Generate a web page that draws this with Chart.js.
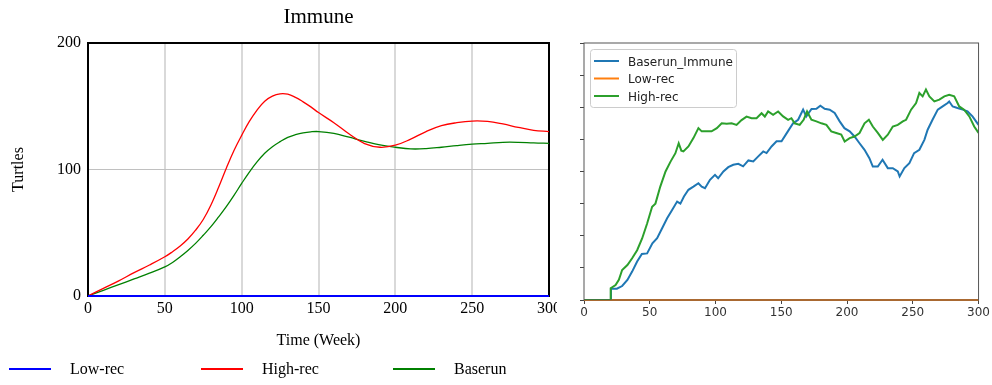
<!DOCTYPE html>
<html>
<head>
<meta charset="utf-8">
<title>Immune</title>
<script src="https://cdn.jsdelivr.net/npm/chart.js@4.4.1/dist/chart.umd.min.js"></script>
<style>
  body { margin: 0; background: #fff; }
  #leftWrap { position: absolute; left: 0; top: 0; width: 557px; height: 385px; overflow: hidden; }
  #rightChart { position: absolute; left: 570px; top: 0; filter: blur(0.5px); }
</style>
</head>
<body>
<div id="leftWrap"><canvas id="leftChart" width="600" height="385"></canvas></div>
<canvas id="rightChart" width="422" height="330"></canvas>
<script>
// Simulation runs (smooth model output), weeks 0-300
const weeks = [0, 10, 20, 30, 40, 50, 55, 60, 65, 70, 75, 80, 85, 90, 95, 100, 105, 110, 115, 120, 125, 130, 135, 140, 145, 150, 160, 170, 180, 190, 200, 210, 220, 230, 240, 250, 260, 270, 280, 290, 300];
const lowRec = [0, 0, 0, 0, 0, 0, 0, 0, 0, 0, 0, 0, 0, 0, 0, 0, 0, 0, 0, 0, 0, 0, 0, 0, 0, 0, 0, 0, 0, 0, 0, 0, 0, 0, 0, 0, 0, 0, 0, 0, 0];
const highRec = [0, 6, 12, 18.5, 24.5, 31, 35, 39.5, 45, 52, 60.5, 72, 86, 101, 115, 127, 138, 147, 154, 158, 159.8, 159.5, 157, 153.5, 149.5, 145, 137, 128, 120.5, 117.6, 119.2, 124, 130, 134.6, 137, 138.3, 138, 136, 133.3, 131, 130];
const baserun = [0, 4.5, 9, 13.5, 18, 23, 26.5, 31, 36, 41.6, 48, 54.8, 62.5, 70.6, 79.5, 89, 98, 106, 112.8, 118, 122, 125.4, 127.5, 129, 129.8, 130, 128.6, 125.5, 122.3, 119.4, 117.6, 116.3, 116.5, 117.6, 118.9, 120, 120.7, 121.5, 121.5, 121, 120.7];
const leftYTicks = [0, 100, 200];
const leftXTicks = [0, 50, 100, 150, 200, 250, 300];

// Agent-based runs (noisy), weeks 0-300
const baseWeeks = [0, 20, 20.5, 25, 29, 33, 36.6, 40.4, 44, 48, 52, 55.6, 59.4, 63.2, 67, 70.8, 73.3, 76, 79.4, 83.2, 87, 89.5, 92, 95.8, 99.6, 102, 106, 109.7, 113.5, 117.3, 121, 125, 128.7, 132.5, 136.3, 138.8, 142.6, 146.4, 150.2, 155, 159, 162.8, 166.6, 169, 173, 176.7, 179.7, 183, 186.8, 190.6, 194.4, 198, 202, 205.7, 209.5, 213.3, 217, 219.6, 223.4, 227, 231, 234.8, 238.6, 240, 243.6, 247.4, 251, 255, 258.8, 261.3, 265, 269, 272.7, 276.5, 277.7, 280.3, 284, 288, 291.6, 295.4, 300];
const baseImmune = [0, 0, 7, 7, 8.7, 12.5, 17.7, 24, 28.7, 29, 35.3, 38.5, 44.7, 50.9, 56, 61.3, 60, 64.4, 68.6, 70.6, 72.7, 70.6, 69.6, 74.8, 77.9, 75.8, 80, 82.7, 84.2, 84.8, 83.2, 86.9, 86.3, 89.4, 92.5, 91.5, 95.6, 98.8, 98.8, 105, 110, 112.2, 118.5, 114.3, 118.9, 119, 121, 119, 118.5, 116.4, 111.2, 107, 105, 101.8, 97.6, 93.5, 88.3, 83.1, 83.1, 87.3, 82.1, 82.1, 80, 76.9, 82.1, 85.2, 91.4, 93.5, 99.7, 106, 112.2, 118.5, 120.5, 122.6, 123.6, 120.5, 119.5, 118.5, 117.4, 114.3, 109];
const lowWeeks = [0, 300];
const lowImmune = [0, 0];
const highWeeks = [0, 20, 20.3, 24, 26.5, 29, 33, 36.6, 40.4, 44.2, 48, 51.8, 54.3, 58, 62, 65.7, 69.5, 72, 74, 75.6, 79.4, 83.2, 87, 89.5, 93.3, 97, 101, 104.7, 108.5, 112.2, 116, 119.8, 123.6, 127.4, 131.2, 135, 137.5, 140, 143.8, 147.6, 151.4, 155.2, 157.7, 160.2, 164, 167, 169.6, 172.9, 176.7, 180.5, 184.3, 188, 191.8, 195.6, 198.2, 202, 205.7, 209.5, 213.3, 216.6, 219.6, 223.4, 227.2, 231, 234.8, 238.6, 242.4, 244.9, 248.7, 252.5, 255, 257.5, 260, 262.6, 266.4, 270.2, 274, 277.7, 281.5, 285.3, 289, 293, 296.7, 300];
const highImmune = [0, 0, 7.3, 9.3, 12.6, 18.7, 21.8, 26, 31, 38.3, 47.6, 58, 60, 70.6, 80, 86, 91.4, 97.6, 93, 92.5, 95.6, 100.8, 107, 105, 105, 105, 107, 110, 109.7, 110, 109, 112, 114.2, 113.2, 113.2, 116.3, 114.2, 117.4, 115.3, 117.4, 114.3, 112.2, 113.2, 110, 109, 112.2, 117.4, 112.2, 111.2, 110, 109, 105, 104, 103, 98.7, 100.8, 101.8, 104, 110, 112.2, 108, 104, 99.7, 102.9, 108, 109, 111.2, 112.2, 118.5, 122.6, 128.9, 126.8, 131, 126.8, 123.6, 124.7, 126.8, 127.8, 126.8, 120.5, 118.5, 114.3, 108, 104];
const rightXTicks = [0, 50, 100, 150, 200, 250, 300];

function toPoints(xs, ys) {
    return xs.map((x, i) => ({ x: x, y: ys[i] }));
}

// Box around the plot area
function makeFrame(cfg) {
    function draw(chart) {
        const a = chart.chartArea;
        const ctx = chart.ctx;
        ctx.save();
        ctx.strokeStyle = cfg.color;
        ctx.lineWidth = cfg.width;
        ctx.strokeRect(a.left, a.top, a.right - a.left, a.bottom - a.top);
        ctx.restore();
    }
    return {
        id: 'plotFrame',
        beforeDatasetsDraw(chart) { if (cfg.under) draw(chart); },
        afterDatasetsDraw(chart) { if (!cfg.under) draw(chart); }
    };
}

// Line-sample legend, one slot per dataset
function makeLegend(cfg) {
    return {
        id: 'lineLegend',
        afterDraw(chart) {
            const ctx = chart.ctx;
            ctx.save();
            if (cfg.box) {
                const b = cfg.box;
                ctx.beginPath();
                ctx.roundRect(b.x, b.y, b.w, b.h, 3);
                ctx.fillStyle = 'rgba(255,255,255,0.85)';
                ctx.fill();
                ctx.strokeStyle = '#cccccc';
                ctx.lineWidth = 1;
                ctx.stroke();
            }
            ctx.font = cfg.font;
            ctx.textBaseline = 'alphabetic';
            chart.data.datasets.forEach((ds, i) => {
                const s = cfg.slots[i];
                ctx.strokeStyle = ds.borderColor;
                ctx.lineWidth = cfg.lineWidth;
                ctx.beginPath();
                ctx.moveTo(s.x, s.y);
                ctx.lineTo(s.x + cfg.lineLength, s.y);
                ctx.stroke();
                ctx.fillStyle = cfg.color;
                ctx.fillText(ds.label, s.tx, s.y + cfg.baseShift);
            });
            ctx.restore();
        }
    };
}

function renderLeftChart() {
    const ctx = document.getElementById('leftChart');
    const serif = "'Liberation Serif', 'Times New Roman', serif";
    new Chart(ctx, {
        type: 'line',
        data: {
            datasets: [
                { label: 'Low-rec', data: toPoints(weeks, lowRec), borderColor: '#0000ff', borderWidth: 2, clip: false },
                { label: 'High-rec', data: toPoints(weeks, highRec), borderColor: '#ff0000', borderWidth: 1.3 },
                { label: 'Baserun', data: toPoints(weeks, baserun), borderColor: '#008000', borderWidth: 1.3 }
            ]
        },
        options: {
            responsive: false,
            animation: false,
            events: [],
            layout: { padding: { top: 0, right: 51, bottom: 30, left: 0 } },
            elements: {
                point: { radius: 0 },
                line: { tension: 0.4 }
            },
            scales: {
                x: {
                    type: 'linear',
                    min: 0,
                    max: 300,
                    afterBuildTicks: s => { s.ticks = leftXTicks.map(v => ({ value: v })); },
                    afterFit: s => { s.height = 59; },
                    ticks: { color: '#000', font: { family: serif, size: 16 }, padding: 3, maxRotation: 0 },
                    grid: { color: '#d9d9d9', lineWidth: 2, drawTicks: false },
                    border: { display: false },
                    title: { display: true, text: 'Time (Week)', color: '#000', font: { family: serif, size: 16 }, padding: { top: 0, bottom: 5 } }
                },
                y: {
                    min: 0,
                    max: 200,
                    afterBuildTicks: s => { s.ticks = leftYTicks.map(v => ({ value: v })); },
                    afterFit: s => { s.width = 88; },
                    ticks: { color: '#000', font: { family: serif, size: 16 }, padding: 7 },
                    grid: { color: '#c0c0c0', lineWidth: 1, drawTicks: false },
                    border: { display: false },
                    title: { display: true, text: 'Turtles', color: '#000', font: { family: serif, size: 16 }, padding: { top: 9, bottom: 0 } }
                }
            },
            plugins: {
                legend: { display: false },
                tooltip: { enabled: false },
                title: {
                    display: true,
                    text: 'Immune',
                    fullSize: false,
                    color: '#000',
                    font: { family: serif, size: 21, weight: 'normal' },
                    padding: { top: 5, bottom: 12.8 }
                }
            }
        },
        plugins: [
            makeFrame({ color: '#000', width: 2, under: true }),
            makeLegend({
                font: "16px 'Liberation Serif', serif",
                color: '#000',
                lineWidth: 2,
                lineLength: 42,
                baseShift: 5,
                slots: [
                    { x: 9, y: 369, tx: 70 },
                    { x: 201, y: 369, tx: 262 },
                    { x: 393, y: 369, tx: 454 }
                ]
            })
        ]
    });
}

function renderRightChart() {
    const ctx = document.getElementById('rightChart');
    const sans = "'DejaVu Sans', sans-serif";
    new Chart(ctx, {
        type: 'line',
        data: {
            datasets: [
                { label: 'Baserun_Immune', data: toPoints(baseWeeks, baseImmune), borderColor: '#1f77b4', order: 3 },
                { label: 'Low-rec', data: toPoints(lowWeeks, lowImmune), borderColor: '#ff7f0e', order: 2, clip: 3 },
                { label: 'High-rec', data: toPoints(highWeeks, highImmune), borderColor: '#2ca02c', order: 1 }
            ]
        },
        options: {
            responsive: false,
            animation: false,
            events: [],
            layout: { padding: { top: 43, right: 12, bottom: 0, left: 0 } },
            elements: {
                point: { radius: 0 },
                line: { borderWidth: 2, tension: 0 }
            },
            scales: {
                x: {
                    type: 'linear',
                    min: 0,
                    max: 300,
                    afterBuildTicks: s => { s.ticks = rightXTicks.map(v => ({ value: v })); },
                    afterFit: s => { s.height = 30; },
                    ticks: { color: '#333', font: { family: sans, size: 12 }, padding: 2, maxRotation: 0 },
                    grid: { drawOnChartArea: false, drawTicks: true, tickLength: 4, color: '#444' },
                    border: { display: false }
                },
                y: {
                    min: 0,
                    max: 160,
                    afterFit: s => { s.width = 14; },
                    ticks: { stepSize: 20, padding: 0, callback: () => '' },
                    grid: { drawOnChartArea: false, drawTicks: true, tickLength: 4, color: '#444' },
                    border: { display: false }
                }
            },
            plugins: {
                legend: { display: false },
                tooltip: { enabled: false }
            }
        },
        plugins: [
            makeFrame({ color: '#555', width: 1, under: false }),
            makeLegend({
                font: "12px 'DejaVu Sans', sans-serif",
                color: '#222',
                lineWidth: 2,
                lineLength: 25,
                baseShift: 4.5,
                box: { x: 20.5, y: 49.5, w: 146, h: 58 },
                slots: [
                    { x: 24, y: 61, tx: 58 },
                    { x: 24, y: 78.5, tx: 58 },
                    { x: 24, y: 96, tx: 58 }
                ]
            })
        ]
    });
}

document.addEventListener('DOMContentLoaded', function() {
    renderLeftChart();
    renderRightChart();
});
</script>
</body>
</html>
